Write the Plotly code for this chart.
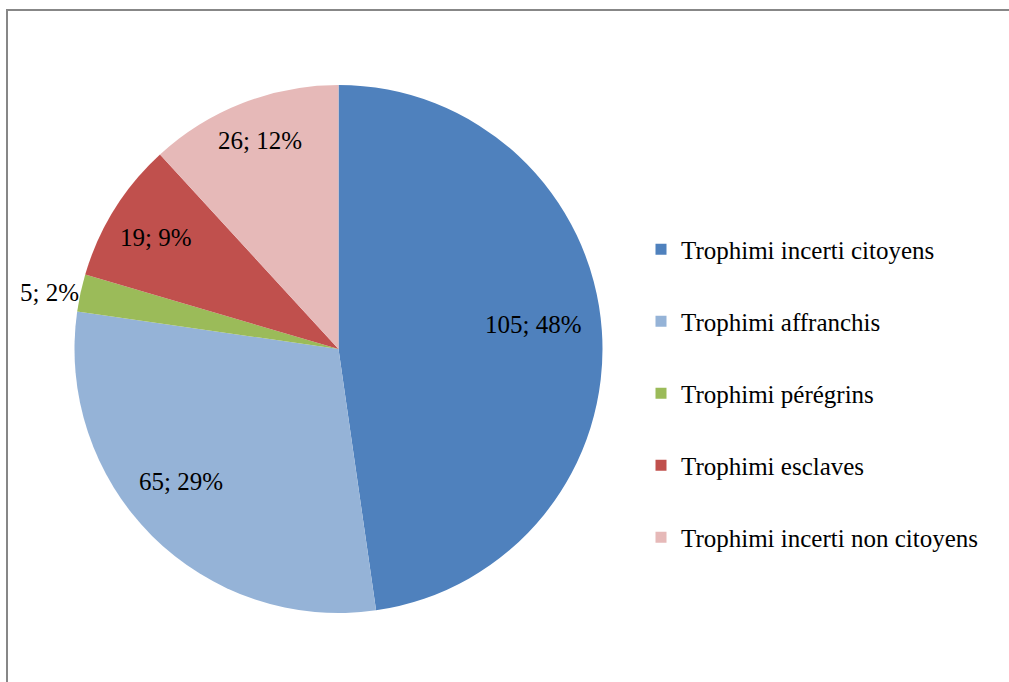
import math
import plotly.graph_objects as go

labels = ["Trophimi incerti citoyens", "Trophimi affranchis", "Trophimi pérégrins",
          "Trophimi esclaves", "Trophimi incerti non citoyens"]
values = [105, 65, 5, 19, 26]
percents = ["48%", "29%", "2%", "9%", "12%"]
colors = ["#4F81BD", "#95B3D7", "#9BBB59", "#C0504D", "#E6B9B8"]

# label placement style (fraction of radius, angle nudge in degrees, inside/outside)
label_radius = [0.745, 0.78, 1.0, 0.81, 0.845]
label_nudge = [-3.2, 5.0, 0.0, -0.6, 0.7]
label_outside = [False, False, True, False, False]

W, H = 1009, 682
cx, cy, r = 338.5, 349, 264
FONT = "Liberation Serif, Times New Roman, serif"

slice_text = [f"{v}; {p}" for v, p in zip(values, percents)]

fig = go.Figure()
fig.add_trace(go.Pie(
    labels=labels,
    values=values,
    textinfo="none",
    sort=False,
    direction="clockwise",
    rotation=0,
    marker=dict(colors=colors, line=dict(width=0)),
    domain=dict(x=[(cx - r) / W, (cx + r) / W], y=[1 - (cy + r) / H, 1 - (cy - r) / H]),
    showlegend=False,
    hoverinfo="label+value+percent",
))

# legend entries (one per slice, same colours)
for lab, col in zip(labels, colors):
    fig.add_trace(go.Scatter(
        x=[None], y=[None], mode="markers", name=lab, legendgroup=lab,
        marker=dict(symbol="square", size=11, color=col, line=dict(width=0)),
        showlegend=True,
    ))

# data labels positioned from the slice angles
total = sum(values)
annotations = []
cum = 0.0
for i, v in enumerate(values):
    mid = (cum + v / 2) / total * 360 + label_nudge[i]
    cum += v
    rad = math.radians(mid)
    px = cx + label_radius[i] * r * math.sin(rad)
    py = cy - label_radius[i] * r * math.cos(rad)
    annotations.append(dict(
        x=px / W, y=1 - py / H, xref="paper", yref="paper",
        text=slice_text[i], showarrow=False,
        xanchor="right" if label_outside[i] else "center", yanchor="middle",
        font=dict(family=FONT, size=25, color="#000000"),
    ))

fig.update_layout(
    width=W, height=H,
    margin=dict(l=0, r=0, t=0, b=0),
    paper_bgcolor="white",
    plot_bgcolor="white",
    xaxis=dict(visible=False),
    yaxis=dict(visible=False),
    showlegend=True,
    legend=dict(
        x=641 / W, xanchor="left",
        y=1 - 393.5 / H, yanchor="middle",
        font=dict(family=FONT, size=25, color="#000000"),
        itemwidth=30,
        tracegroupgap=36.5,
        bgcolor="rgba(0,0,0,0)",
        itemclick=False, itemdoubleclick=False,
    ),
    annotations=annotations,
    shapes=[dict(type="rect", xref="paper", yref="paper",
                 x0=7 / W, x1=1.02, y0=-0.02, y1=1 - 10 / H,
                 line=dict(color="#878787", width=2))],
)

fig.write_html("out.html", config={"displayModeBar": False},
               post_script="document.body.style.margin='0px';")
